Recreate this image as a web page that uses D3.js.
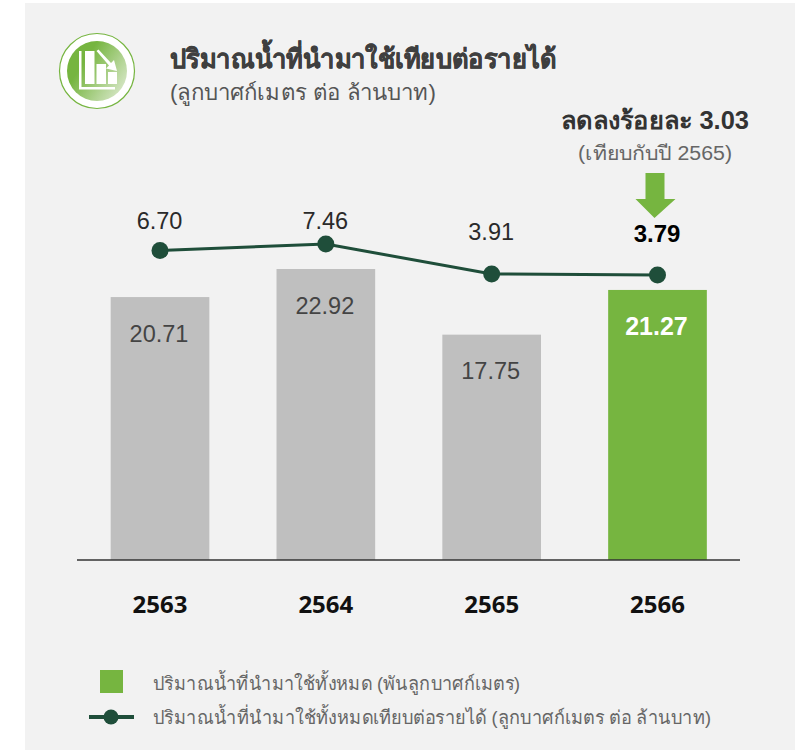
<!DOCTYPE html>
<html><head><meta charset="utf-8">
<script src="https://cdn.jsdelivr.net/npm/d3@7/dist/d3.min.js"></script>
<style>html,body{margin:0;padding:0;background:#fff}svg{display:block}text{font-family:"Liberation Sans","Noto Sans",sans-serif}</style>
</head><body><div id="c"></div>
<script>
const years=["2563","2564","2565","2566"];
const totalValues=[20.71,22.92,17.75,21.27];
const ratioValues=[6.70,7.46,3.91,3.79];
const titleText="ปริมาณน้ำที่นำมาใช้เทียบต่อรายได้";
const subtitleText="(ลูกบาศก์เมตร ต่อ ล้านบาท)";
const changeText="ลดลงร้อยละ 3.03";
const compareText="(เทียบกับปี 2565)";
const legendTexts=["ปริมาณน้ำที่นำมาใช้ทั้งหมด (พันลูกบาศก์เมตร)","ปริมาณน้ำที่นำมาใช้ทั้งหมดเทียบต่อรายได้ (ลูกบาศก์เมตร ต่อ ล้านบาท)"];

const svg=d3.select("#c").append("svg").attr("width",795).attr("height",750);
svg.append("rect").attr("x",25).attr("y",3).attr("width",770).attr("height",747).attr("fill","#f2f2f2");

const x=d3.scaleBand().domain(years).range([77.5,740]).paddingInner(0.405).paddingOuter(0.2);
const y=d3.scaleLinear().domain([0,22.92]).range([560,269]);
const yL=d3.scaleLinear().domain([3.79,7.46]).range([275,244]);
const cx=d=>x(d)+x.bandwidth()/2;

// icon
const defs=svg.append("defs");
const g=defs.append("linearGradient").attr("id","ig").attr("x1","0.1").attr("y1","0.35").attr("x2","0.95").attr("y2","0.9");
g.append("stop").attr("offset","0.15").attr("stop-color","#76b540");
g.append("stop").attr("offset","1").attr("stop-color","#dbe9cd");
const ic=svg.append("g").attr("transform","translate(97,71)");
ic.append("circle").attr("r",37.5).attr("fill","#fff").attr("stroke","#76b540").attr("stroke-width",1.2);
ic.append("circle").attr("r",30).attr("fill","url(#ig)");
ic.append("path").attr("fill","#fff").attr("d","M-18,-20H-15.5V16H18V18.5H-18Z");
ic.append("rect").attr("x",-12).attr("y",-20).attr("width",9.5).attr("height",33).attr("fill","#fff");
ic.append("rect").attr("x",-0.5).attr("y",-7).attr("width",9.5).attr("height",20).attr("fill","#fff");
ic.append("rect").attr("x",11).attr("y",1).attr("width",9).attr("height",12).attr("fill","#fff");
ic.append("path").attr("fill","#fff").attr("d","M-0.5,-20L1.5,-21.5L14,-8L17,-11L20,0L9,-2.5L12,-5.5Z");

// title
svg.append("text").attr("x",170).attr("y",68).attr("font-size",26.5).attr("font-weight",700).attr("fill","#3f3f3f").attr("stroke","#3f3f3f").attr("stroke-width",0.4).attr("textLength",386).attr("lengthAdjust","spacingAndGlyphs").text(titleText);
svg.append("text").attr("x",170).attr("y",100).attr("font-size",22).attr("fill","#555").attr("textLength",266).attr("lengthAdjust","spacingAndGlyphs").text(subtitleText);
svg.append("text").attr("x",561).attr("y",129).attr("font-size",25).attr("font-weight",700).attr("fill","#333").attr("textLength",188).attr("lengthAdjust","spacingAndGlyphs").text(changeText);
svg.append("text").attr("x",578).attr("y",160).attr("font-size",19.5).attr("fill","#666").attr("textLength",154).attr("lengthAdjust","spacingAndGlyphs").text(compareText);

// arrow
const ax=cx("2566");
svg.append("path").attr("fill","#76b540").attr("d",d3.line()([[ax-12,173],[ax+7,173],[ax+7,199],[ax+18,199],[ax-3,218],[ax-22,199],[ax-12,199]]));

// bars
svg.append("g").selectAll("rect").data(years).join("rect")
 .attr("x",d=>x(d)).attr("width",x.bandwidth())
 .attr("y",(d,i)=>y(totalValues[i])).attr("height",(d,i)=>560-y(totalValues[i]))
 .attr("fill",(d,i)=>i===3?"#76b540":"#bfbfbf");
svg.append("g").selectAll("text").data(years).join("text")
 .attr("x",d=>cx(d)-1).attr("y",(d,i)=>y(totalValues[i])+[45,45,44,45][i])
 .attr("text-anchor","middle").attr("font-size",(d,i)=>i===3?25:23.5)
 .attr("font-weight",(d,i)=>i===3?700:400).attr("fill",(d,i)=>i===3?"#fff":"#444")
 .text((d,i)=>totalValues[i].toFixed(2));

// axis
const axis=d3.axisBottom(x).tickSize(0).tickPadding(36);
const ag=svg.append("g").attr("transform","translate(0,560)").call(axis);
ag.select(".domain").attr("stroke","#333").attr("stroke-width",1.5).attr("d","M77,0H740");
ag.selectAll("text").style("font-family",'"Noto Sans",sans-serif').attr("font-size",24).attr("font-weight",700).attr("fill","#111");

// line
svg.append("path").attr("fill","none").attr("stroke","#1f4e3a").attr("stroke-width",3)
 .attr("d",d3.line().x((d,i)=>cx(years[i])).y(d=>yL(d))(ratioValues));
svg.append("g").selectAll("circle").data(ratioValues).join("circle")
 .attr("cx",(d,i)=>cx(years[i])).attr("cy",d=>yL(d)).attr("r",8.5).attr("fill","#1f4e3a");
svg.append("g").selectAll("text").data(ratioValues).join("text")
 .attr("x",(d,i)=>cx(years[i])-0.5).attr("y",(d,i)=>[229,229,240,242][i])
 .attr("text-anchor","middle").attr("font-size",(d,i)=>i===3?24:23.5)
 .attr("font-weight",(d,i)=>i===3?700:400).attr("fill",(d,i)=>i===3?"#000":"#2a2a2a")
 .text(d=>d.toFixed(2));

// legend
svg.append("rect").attr("x",100).attr("y",670).attr("width",23).attr("height",23).attr("fill","#76b540");
svg.append("line").attr("x1",89).attr("x2",134).attr("y1",717).attr("y2",717).attr("stroke","#1f4e3a").attr("stroke-width",4);
svg.append("circle").attr("cx",111).attr("cy",717).attr("r",7.5).attr("fill","#1f4e3a");
svg.append("g").selectAll("text").data(legendTexts).join("text")
 .attr("x",153).attr("y",(d,i)=>[690,724][i]).attr("font-size",19).attr("fill","#666")
 .attr("textLength",(d,i)=>[367,558][i]).attr("lengthAdjust","spacingAndGlyphs").text(d=>d);
</script></body></html>
